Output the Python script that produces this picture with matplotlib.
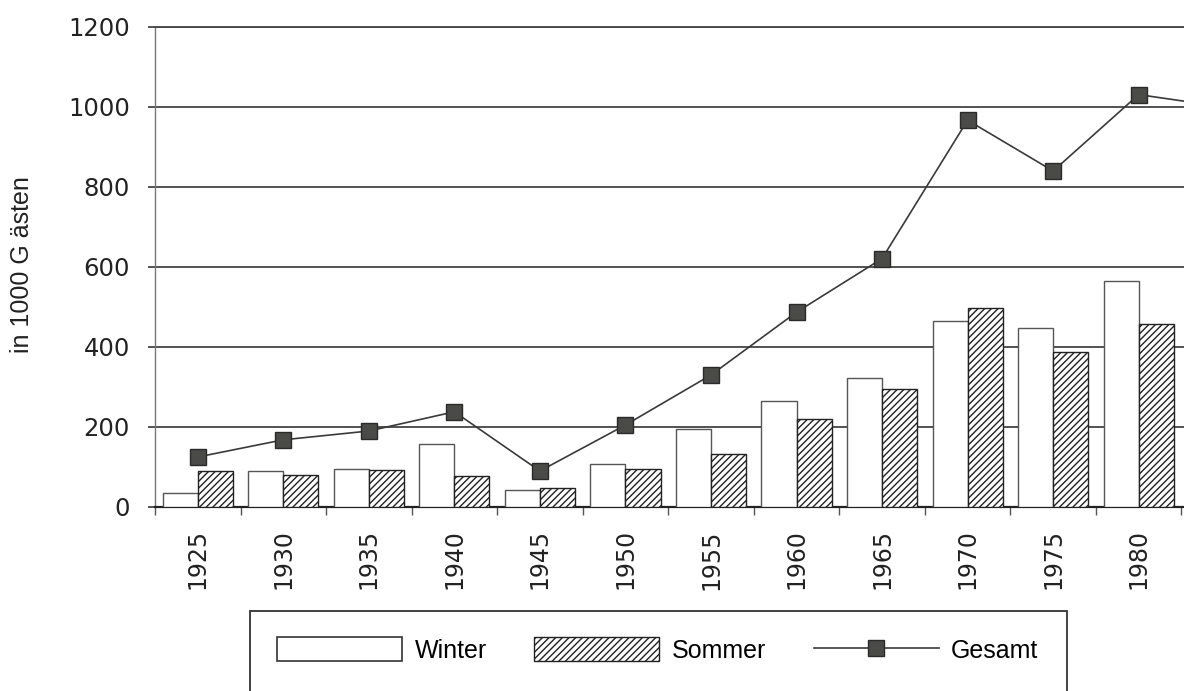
import matplotlib
matplotlib.use("Agg")
import matplotlib.pyplot as plt
from matplotlib.patches import Rectangle, Patch
from matplotlib.lines import Line2D

# Werte (in 1000 Gaesten)
jahre = ['1925', '1930', '1935', '1940', '1945', '1950', '1955',
         '1960', '1965', '1970', '1975', '1980']
winter = [34, 90, 96, 158, 43, 107, 195, 266, 322, 466, 447, 565]
sommer = [90, 80, 93, 78, 47, 95, 133, 220, 294, 497, 387, 458]
# Gesamt geht noch bis 1985 (am rechten Rand abgeschnitten)
gesamt = [125, 168, 190, 238, 90, 205, 330, 487, 621, 967, 840, 1031, 1000]

W, H = 1184, 691
fig = plt.figure(figsize=(W / 100, H / 100), dpi=100)
ax = fig.add_axes([155 / W, 1 - 507 / H, 1 - 155 / W, (507 - 27) / H])

grid_col = '#444444'
bw = 0.41
x = list(range(len(jahre)))
xw = [i - bw / 2 for i in x]
xs = [i + bw / 2 for i in x]

plt.rcParams['hatch.linewidth'] = 1.0
plt.rcParams['hatch.color'] = '#222222'

ax.bar(xw, winter, width=bw, color='white', edgecolor='#555555', linewidth=1.0, zorder=3)
ax.bar(xs, sommer, width=bw, color='white', edgecolor='#222222', linewidth=1.0,
       hatch='/////', zorder=3)
ax.plot(range(len(gesamt)), gesamt, color='#3a3a3a', linewidth=1.2, marker='s',
        markersize=12, markerfacecolor='#4a4a46', markeredgecolor='#2a2a2a', zorder=4)

ax.set_xlim(-0.5, 11.53)
ax.set_ylim(0, 1200)

# Gitterlinien
ax.set_yticks(range(0, 1201, 200))
ax.yaxis.grid(True, color=grid_col, linewidth=1.3, zorder=1)
ax.set_axisbelow(True)

ax.spines['right'].set_visible(False)
ax.spines['top'].set_color(grid_col)
ax.spines['top'].set_linewidth(1.3)
ax.spines['left'].set_color('#777777')
ax.spines['left'].set_linewidth(1.0)
ax.spines['bottom'].set_color('#222222')
ax.spines['bottom'].set_linewidth(1.6)

ax.tick_params(axis='y', direction='out', length=5, width=1.3, color=grid_col,
               pad=13, labelsize=17.5, labelcolor='#222222')

# Striche an den Gruppengrenzen, Beschriftung in der Mitte
ax.set_xticks([i - 0.5 for i in range(len(jahre) + 1)])
ax.set_xticklabels([])
ax.set_xticks(x, minor=True)
ax.set_xticklabels(jahre, minor=True, rotation=90)
ax.tick_params(axis='x', which='major', direction='out', length=6, width=1.0, color='#555555')
ax.tick_params(axis='x', which='minor', length=0, pad=16, labelsize=17, labelcolor='#222222')

fig.text(22 / W, 1 - 265 / H, 'in 1000 G ästen', rotation=90, ha='center', va='center',
         family='Liberation Sans', fontsize=18, color='#222222')

# Legende mit Rahmen, unten abgeschnitten
fig.add_artist(Rectangle((250 / W, -0.1), (1067 - 250) / W, 0.1 + (691 - 611) / H,
                         transform=fig.transFigure, fill=False, edgecolor='#333333',
                         linewidth=1.3))
handles = [
    Patch(facecolor='white', edgecolor='#333333', linewidth=1.2, label='Winter'),
    Patch(facecolor='white', edgecolor='#222222', linewidth=1.0, hatch='/////', label='Sommer'),
    Line2D([], [], color='#3a3a3a', linewidth=1.2, marker='s', markersize=11,
           markerfacecolor='#4a4a46', markeredgecolor='#2a2a2a', label='Gesamt'),
]
fig.legend(handles=handles, loc='center left', bbox_to_anchor=(277 / W, 1 - 650 / H),
           ncol=3, frameon=False, borderpad=0, borderaxespad=0, handlelength=5.0,
           handleheight=1.08, handletextpad=0.5, columnspacing=1.9,
           prop={'family': 'Liberation Sans', 'size': 18})

fig.savefig('out.png', dpi=100)
